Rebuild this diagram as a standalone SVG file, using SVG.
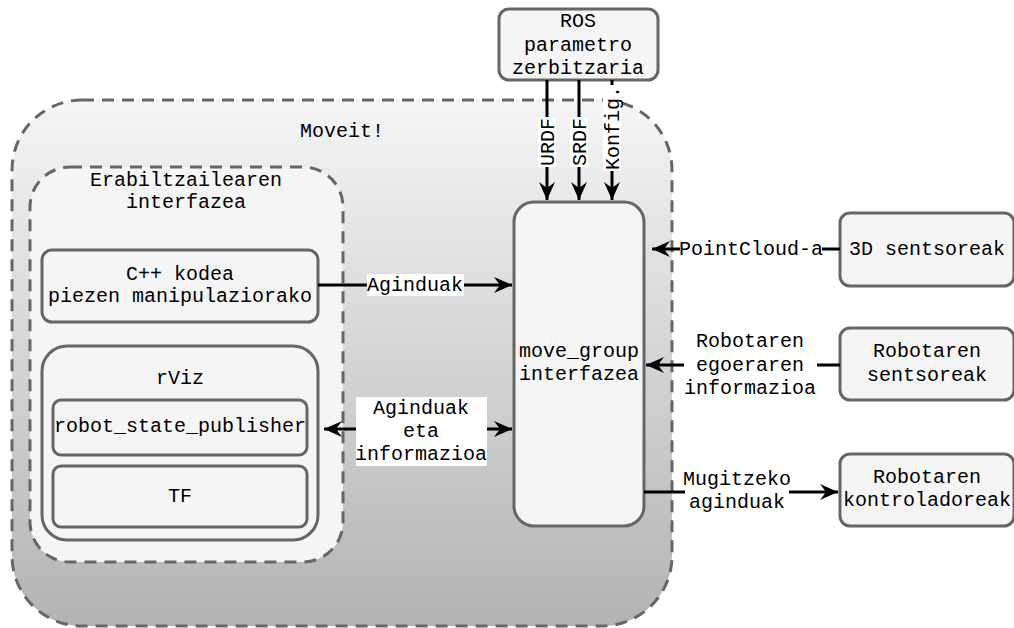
<svg xmlns="http://www.w3.org/2000/svg" width="1014" height="628" viewBox="0 0 1014 628">
<defs>
<linearGradient id="g" x1="0" y1="0" x2="0" y2="1">
<stop offset="0" stop-color="#f5f5f5"/>
<stop offset="1" stop-color="#b3b3b3"/>
</linearGradient>
<marker id="a2" viewBox="0 0 20 20" refX="18" refY="10" markerWidth="20" markerHeight="20" orient="auto-start-reverse" markerUnits="userSpaceOnUse">
<path d="M0,2 L18,10 L0,18 L6,10 Z" fill="#000"/>
</marker>
<style>
.box{fill:#f5f5f5;stroke:#666;stroke-width:3}
.dash{stroke:#666;stroke-width:3;stroke-dasharray:12 8}
.t{font-family:"Liberation Mono","DejaVu Sans Mono",monospace;font-size:20px;fill:#000;text-anchor:middle}
.c{stroke:#000;stroke-width:3;fill:none}
.bg{fill:#fff}
</style>
</defs>

<g id="moveit">
<rect x="12" y="100" width="660" height="526" rx="70" fill="url(#g)" class="dash"/>
<text class="t" x="342" y="137">Moveit!</text>
</g>
<g id="erabiltzaile">
<rect x="30" y="167" width="313" height="395" rx="40" fill="#f5f5f5" class="dash"/>
<text class="t" x="186" y="186">Erabiltzailearen</text>
<text class="t" x="186" y="208">interfazea</text>
</g>
<g id="cpp">
<rect class="box" x="42" y="250" width="276" height="72" rx="10"/>
<text class="t" x="180" y="280">C++ kodea</text>
<text class="t" x="180" y="302">piezen manipulaziorako</text>
</g>
<g id="rviz">
<rect class="box" x="42" y="346" width="276" height="194" rx="25"/>
<text class="t" x="180" y="384">rViz</text>
</g>
<g id="rsp">
<rect class="box" x="53" y="400" width="254" height="55" rx="8"/>
<text class="t" x="180" y="432">robot_state_publisher</text>
</g>
<g id="tf">
<rect class="box" x="53" y="466" width="254" height="61" rx="8"/>
<text class="t" x="180" y="502">TF</text>
</g>
<g id="movegroup">
<rect class="box" x="514" y="202" width="130" height="324" rx="20"/>
<text class="t" x="579" y="357">move_group</text>
<text class="t" x="579" y="380">interfazea</text>
</g>
<g id="ros">
<rect class="box" x="499" y="9" width="159" height="71" rx="10"/>
<text class="t" x="578" y="27">ROS</text>
<text class="t" x="578" y="51">parametro</text>
<text class="t" x="578" y="74">zerbitzaria</text>
</g>
<g id="sens3d">
<rect class="box" x="840" y="213" width="174" height="73" rx="10"/>
<text class="t" x="927" y="255">3D sentsoreak</text>
</g>
<g id="robsens">
<rect class="box" x="840" y="328" width="174" height="72" rx="10"/>
<text class="t" x="927" y="357">Robotaren</text>
<text class="t" x="927" y="381">sentsoreak</text>
</g>
<g id="robkont">
<rect class="box" x="840" y="454" width="174" height="72" rx="10"/>
<text class="t" x="927" y="483">Robotaren</text>
<text class="t" x="927" y="506">kontroladoreak</text>
</g>

<g id="connectors">
<line class="c" x1="547" y1="80" x2="547" y2="200" marker-end="url(#a2)"/>
<line class="c" x1="579" y1="80" x2="579" y2="200" marker-end="url(#a2)"/>
<line class="c" x1="612" y1="80" x2="612" y2="200" marker-end="url(#a2)"/>
<rect class="bg" x="538" y="117" width="18" height="50"/>
<rect class="bg" x="570" y="117" width="18" height="50"/>
<rect class="bg" x="603" y="85" width="18" height="86"/>
<text class="t" transform="translate(554,142) rotate(-90)">URDF</text>
<text class="t" transform="translate(586,142) rotate(-90)">SRDF</text>
<text class="t" transform="translate(619,128) rotate(-90)">Konfig.</text>

<line class="c" x1="318" y1="285" x2="512" y2="285" marker-end="url(#a2)"/>
<rect class="bg" x="367" y="274" width="97" height="22"/>
<text class="t" x="415" y="291">Aginduak</text>

<line class="c" x1="324" y1="429" x2="512" y2="429" marker-start="url(#a2)" marker-end="url(#a2)"/>
<rect class="bg" x="356" y="397" width="131" height="69"/>
<text class="t" x="421" y="414">Aginduak</text>
<text class="t" x="421" y="437">eta</text>
<text class="t" x="421" y="460">informazioa</text>

<line class="c" x1="840" y1="249" x2="652" y2="249" marker-end="url(#a2)"/>
<rect class="bg" x="680" y="238" width="142" height="22"/>
<text class="t" x="751" y="255">PointCloud-a</text>

<line class="c" x1="840" y1="365" x2="646" y2="365" marker-end="url(#a2)"/>
<rect class="bg" x="684" y="331" width="133" height="69"/>
<text class="t" x="750" y="347">Robotaren</text>
<text class="t" x="750" y="371">egoeraren</text>
<text class="t" x="750" y="394">informazioa</text>

<line class="c" x1="644" y1="492" x2="838" y2="492" marker-end="url(#a2)"/>
<rect class="bg" x="685" y="467" width="104" height="46"/>
<text class="t" x="737" y="485">Mugitzeko</text>
<text class="t" x="737" y="508">aginduak</text>
</g>
</svg>
